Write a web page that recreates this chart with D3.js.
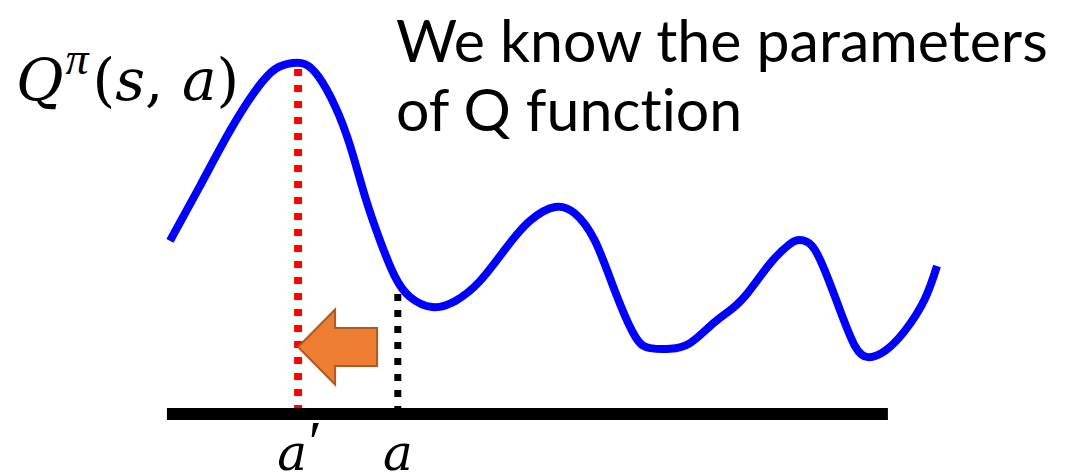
<!DOCTYPE html>
<html>
<head>
<meta charset="utf-8">
<script src="https://cdn.jsdelivr.net/npm/d3@7"></script>
<style>
  html, body { margin: 0; padding: 0; background: #fff; }
  svg { display: block; }
  text { font-variant-ligatures: none; font-feature-settings: "liga" 0; }
</style>
</head>
<body>
<svg id="chart" width="1072" height="475"></svg>
<script>
// Q^pi(s, a) as a function of the action a (arbitrary units)
const actions = [0, 3.9, 7.8, 11.1, 13.7, 16.0, 17.6, 19.3, 21.5, 23.5, 25.4, 27.4, 29.3, 31.3, 34.2,
  37.2, 40.4, 43.7, 46.9, 50.2, 52.8, 55.4, 58.0, 60.6, 62.6, 65.2, 67.8, 70.4, 72.6, 75.0,
  78.2, 80.8, 82.1, 83.7, 85.4, 87.4, 89.3, 91.0, 93.2, 95.8, 98.4, 100];
const qValues = [48.1, 63.3, 78.6, 89.7, 95.8, 97.5, 97.2, 93.9, 85.6, 74.4, 60.6, 48.1, 38.3, 32.5, 29.7,
  31.4, 36.9, 45.8, 53.6, 57.5, 55.7, 48.1, 34.2, 21.7, 18.3, 18.1, 19.7, 24.4, 28.1, 32.8,
  41.7, 47.2, 48.3, 46.7, 39.7, 28.6, 18.9, 15.8, 17.5, 23.1, 31.9, 41.1];

// action axis extent, the current action a and the improved action a'
const axisExtent = [-0.4, 93.6];
const actionA = 29.7;
const actionAPrime = 16.7;
const qAtAPrime = 95.8;
const qAtA = 33.3;
const arrowLevel = 18.6;

const titleLines = ["We know the parameters", "of Q function"];
const tickLabels = ["a", "a"];

const svg = d3.select("#chart");

const x = d3.scaleLinear().domain([0, 100]).range([170, 937]);
const y = d3.scaleLinear().domain([0, 100]).range([414, 54]);

// action axis
svg.append("line")
  .attr("x1", x(axisExtent[0])).attr("x2", x(axisExtent[1]))
  .attr("y1", y(0)).attr("y2", y(0))
  .attr("stroke", "#000").attr("stroke-width", 12);

// dotted guides
svg.append("line")
  .attr("x1", x(actionAPrime)).attr("x2", x(actionAPrime))
  .attr("y1", y(qAtAPrime)).attr("y2", y(0) - 6)
  .attr("stroke", "#ff0000").attr("stroke-width", 8)
  .attr("stroke-dasharray", "7,9");

svg.append("line")
  .attr("x1", x(actionA)).attr("x2", x(actionA))
  .attr("y1", y(qAtA)).attr("y2", y(0) - 6)
  .attr("stroke", "#000").attr("stroke-width", 7)
  .attr("stroke-dasharray", "7,9");

// Q curve
const pts = actions.map((a, i) => [a, qValues[i]]);
svg.append("path")
  .datum(pts)
  .attr("d", d3.line().x(d => x(d[0])).y(d => y(d[1])).curve(d3.curveNatural))
  .attr("fill", "none")
  .attr("stroke", "#0000ff")
  .attr("stroke-width", 8)
  .attr("stroke-linecap", "butt")
  .attr("stroke-linejoin", "round");

// block arrow from a toward a'
const tipX = x(actionAPrime);
const cy = y(arrowLevel);
const headLen = 37, headHalf = 37.5, shaftHalf = 19, bodyLen = 79;
const arrowPts = [
  [tipX, cy],
  [tipX + headLen, cy - headHalf],
  [tipX + headLen, cy - shaftHalf],
  [tipX + bodyLen, cy - shaftHalf],
  [tipX + bodyLen, cy + shaftHalf],
  [tipX + headLen, cy + shaftHalf],
  [tipX + headLen, cy + headHalf]
];
svg.append("path")
  .attr("d", d3.line()(arrowPts) + "Z")
  .attr("fill", "#ed7d31")
  .attr("stroke", "#ae5a21")
  .attr("stroke-width", 2)
  .attr("stroke-linejoin", "miter");

// tick labels under the axis
const mathFont = "'DejaVu Serif', serif";
svg.selectAll("text.tick")
  .data([actionAPrime, actionA])
  .join("text")
  .attr("class", "tick")
  .attr("x", (d, i) => x(d) - (i === 0 ? 6 : 0))
  .attr("y", 470)
  .attr("text-anchor", "middle")
  .attr("font-family", mathFont)
  .attr("font-style", "italic")
  .attr("font-size", 50)
  .text((d, i) => tickLabels[i]);

// prime mark on a'
svg.append("text")
  .attr("x", x(actionAPrime) + 7)
  .attr("y", 462)
  .attr("font-family", "'Liberation Serif', serif")
  .attr("font-style", "italic")
  .attr("font-size", 60)
  .text("\u2032");

// Q^pi(s, a) label
const ql = svg.append("text")
  .attr("x", 16).attr("y", 100)
  .attr("font-family", mathFont)
  .attr("font-size", 58)
  .attr("fill", "#000");
ql.append("tspan").attr("font-style", "italic").text("Q");
ql.append("tspan").attr("font-style", "italic")
  .attr("font-family", "'Liberation Serif', serif")
  .attr("font-size", 46).attr("dy", -26).attr("dx", 2).text("\u03c0");
ql.append("tspan").attr("dy", 26).attr("dx", 4).text("(");
ql.append("tspan").attr("font-style", "italic").text("s");
ql.append("tspan").text(",");
ql.append("tspan").attr("font-style", "italic").text(" a");
ql.append("tspan").text(")");

// heading
svg.selectAll("text.title")
  .data(titleLines)
  .join("text")
  .attr("class", "title")
  .attr("x", 396)
  .attr("y", (d, i) => 62 + i * 69)
  .attr("font-family", "Lato, sans-serif")
  .attr("font-size", 59)
  .attr("fill", "#000")
  .text(d => d);
</script>
</body>
</html>
